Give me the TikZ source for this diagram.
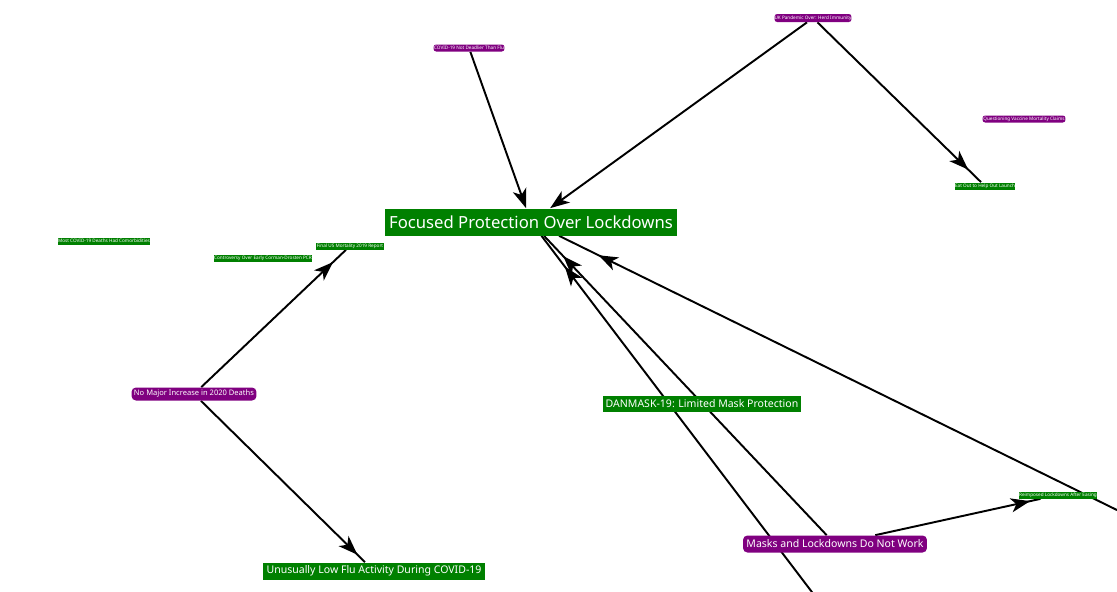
\documentclass[tikz,border=0pt]{standalone}
\usepackage{fontspec}
\setmainfont{Noto Sans}
\usepackage{xcolor}
\usetikzlibrary{positioning}
\usetikzlibrary{arrows.meta}
\usetikzlibrary{decorations.markings}
\pgfdeclarelayer{background}
\pgfsetlayers{background,main}
\definecolor{claimgreen}{RGB}{0,128,0}
\definecolor{claimpurple}{RGB}{128,0,128}

\tikzset{
  green node/.style={fill=claimgreen, text=white, inner sep=0pt},
  purple node/.style={fill=claimpurple, text=white, inner sep=0pt, rounded corners=2.5pt},
  big text/.style={font=\fontsize{9.5}{11}\selectfont},
  mid text/.style={font=\fontsize{6}{7}\selectfont},
  small text/.style={font=\fontsize{4.3}{5}\selectfont},
  tiny text/.style={font=\fontsize{2.65}{3}\selectfont},
  head/.style={postaction={decorate},
    decoration={markings, mark=at position #1 with {\arrow{Stealth[length=11pt,width=8pt,inset=3pt]}}}},
  endhead/.style={-{Stealth[length=11pt,width=8pt,inset=3pt]}}
}

\begin{document}
\begin{tikzpicture}[x=0.02cm,y=-0.02cm]
\useasboundingbox (0,0) rectangle (1117,592);

\begin{scope}[every node/.style={}]
   \node[green node, big text, minimum width=5.86cm, minimum height=0.54cm] (focus) at (531,222) {Focused Protection Over Lockdowns};
   \node[green node, mid text, minimum width=3.96cm, minimum height=0.32cm] (danmask) at (702,404) {DANMASK-19: Limited Mask Protection};
   \node[purple node, mid text, minimum width=3.68cm, minimum height=0.34cm] (masks) at (835,544) {Masks and Lockdowns Do Not Work};
   \node[purple node, small text, minimum width=2.5cm, minimum height=0.26cm] (nomajor) at (194,394) {No Major Increase in 2020 Deaths};
   \node[green node, mid text, minimum width=4.46cm, minimum height=0.34cm] (lowflu) at (374,571) {Unusually Low Flu Activity During COVID-19};

   \node[purple node, tiny text, rounded corners=1.5pt, minimum width=1.54cm, minimum height=0.16cm] (herd) at (813,18) {UK Pandemic Over: Herd Immunity};
   \node[purple node, tiny text, rounded corners=1.5pt, minimum width=1.42cm, minimum height=0.14cm] (flu) at (469,48) {COVID-19 Not Deadlier Than Flu};
   \node[purple node, tiny text, rounded corners=1.5pt, minimum width=1.66cm, minimum height=0.14cm] (vaccine) at (1024,119) {Questioning Vaccine Mortality Claims};
   \node[green node, tiny text, minimum width=1.22cm, minimum height=0.14cm] (eatout) at (985,186) {Eat Out to Help Out Launch};
   \node[green node, tiny text, minimum width=1.86cm, minimum height=0.14cm] (comorb) at (104,241) {Most COVID-19 Deaths Had Comorbidities};
   \node[green node, tiny text, minimum width=1.98cm, minimum height=0.14cm] (pcr) at (263,258) {Controversy Over Early Corman-Drosten PCR};
   \node[green node, tiny text, minimum width=1.36cm, minimum height=0.14cm] (mortality) at (350,246) {Final US Mortality 2019 Report};
   \node[green node, tiny text, minimum width=1.56cm, minimum height=0.14cm] (reimposed) at (1058,495) {Reimposed Lockdowns After Easing};

   % sources lying outside the picture
   \coordinate (offbelow) at (881,683);
   \coordinate (offright) at (1180,541);
\end{scope}

\begin{pgfonlayer}{background}
\begin{scope}[every edge/.style={draw, line width=1.1pt}]
   \clip (0,0) rectangle (1117,592);
   \path (flu) edge[endhead] (focus);
   \path (herd) edge[endhead] (focus);
   \path (herd) edge[head=-10pt] (eatout);

   \path (nomajor) edge[head=-10pt] (mortality);
   \path (nomajor) edge[head=-6pt] (lowflu);

   \path (masks) edge[head=-16pt] (focus);
   \path (offbelow) edge[head=-22pt] (focus);
   \path (offright) edge[head=-25pt] (focus);
   \path (masks) edge[head=-6pt] (reimposed);
\end{scope}
\end{pgfonlayer}
\end{tikzpicture}
\end{document}
